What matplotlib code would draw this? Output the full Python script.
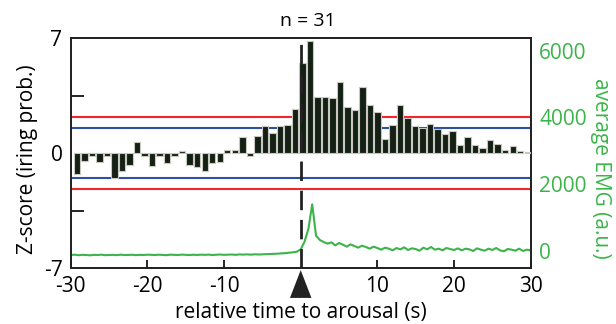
import numpy as np
import matplotlib
matplotlib.use('Agg')
import matplotlib.pyplot as plt
from matplotlib.patches import Polygon
from matplotlib.transforms import blended_transform_factory

# ---------------- data ----------------
bin_left = np.linspace(-29.6, 29.2, 61)      # left edges of the 61 histogram bins (s)
zscores = [-1.28, -0.51, -0.16, -0.57, -0.20, -1.50, -1.08, -0.71, 0.69, -0.20,
           -0.77, -0.20, -0.61, -0.20, 0.10, -0.71, -0.87, -1.08, -0.63, -0.53,
           0.20, 0.16, 0.97, -0.16, 1.05, 1.66, 1.22, 1.62, 1.70, 2.68,
           5.50, 6.80, 3.39, 3.39, 3.33, 4.30, 2.82, 2.62, 4.00, 2.92,
           2.48, 0.83, 1.68, 2.94, 2.13, 1.64, 1.50, 1.76, 1.46, 1.15,
           1.31, 0.47, 0.95, 0.50, 0.30, 0.81, 0.52, 0.17, 0.41, 0.14,
           0.07]

emg_t = np.arange(-30, 30.01, 0.5)           # sample times of EMG trace (s)
emg = [-130, -120, -135, -125, -130, -140, -125, -130, -120, -135, -130,
       -125, -135, -120, -130, -128, -122, -135, -125, -130, -120,
       -125, -130, -120, -128, -135, -120, -125, -130, -118, -125,
       -130, -122, -128, -120, -125, -118, -130, -122, -115, -125,
       -120, -115, -125, -112, -118, -110, -120, -108, -115, -110,
       -105, -100, -95, -90, -80, -75, -60, -50, -30,
       40, 270, 650, 1390, 450, 320, 260,
       210, 250, 160, 230, 180, 120, 190, 140, 90, 150, 110, 60, 120, 80,
       30, 90, 60, 10, 80, 40, 100, 20, 70, 50, 0, 90, 40, 110, 30, 60, 10, 80, 50, 20,
       70, 10, 60, 40, -10, 70, 30, 0, 60, 20, 80, 10, -20, 50, 30, 0, 60, -10, 30, 10]

red_thr = 2.2
blue_thr = 1.55

z_ticks = [-7, 0, 7]
z_minor = [-3.5, 3.5]
x_ticks = [-30, -20, -10, 10, 20, 30]
emg_ticks = [0, 2000, 4000, 6000]

# ---------------- style ----------------
plt.rcParams['font.family'] = ['Open Sans', 'DejaVu Sans']
FS = 15
GREEN = '#3cb44b'

fig = plt.figure(figsize=(6.16, 3.24), dpi=100)
ax = fig.add_axes([0.1148, 0.1728, 0.7467, 0.7099])
ax2 = ax.twinx()

ax.set_zorder(2)
ax.patch.set_visible(False)

# threshold lines
for v in (red_thr, -red_thr):
    ax.axhline(v, color='#f0282d', lw=1.5, zorder=1)
for v in (blue_thr, -blue_thr):
    ax.axhline(v, color='#2f4fa0', lw=1.5, zorder=1)

# histogram bars
ax.bar(bin_left, zscores, width=0.84, align='edge', color='#142014',
       edgecolor='#c8c8c0', linewidth=0.8, zorder=3)

# dashed arousal line
ax.axvline(0, color='#222222', lw=2.0, linestyle=(0, (7, 3.5)), zorder=4)

# EMG trace
ax2.plot(emg_t, emg, color=GREEN, lw=1.5)

# limits
ax.set_xlim(-30, 30)
ax.set_ylim(-7, 7)
ax2.set_ylim(-520, 6380)

# ticks
ax.set_yticks(z_ticks)
ax.set_yticklabels([str(v) for v in z_ticks])
ax.set_yticks(z_minor, minor=True)
ax.tick_params(axis='y', which='major', length=0, pad=6, labelsize=FS)
ax.tick_params(axis='y', which='minor', direction='in', length=9, width=1.2)
ax.set_xticks(x_ticks)
ax.set_xticklabels([str(v) for v in x_ticks])
ax.tick_params(axis='x', direction='in', length=6, width=1.2, pad=6, labelsize=FS)

ax2.set_yticks(emg_ticks)
ax2.set_yticklabels([str(v) for v in emg_ticks])
ax2.tick_params(axis='y', length=0, pad=6, labelsize=FS, labelcolor=GREEN)

for a in (ax, ax2):
    for s in a.spines.values():
        s.set_linewidth(1.3)
        s.set_color('#222222')

# labels
ax.text(-0.095, 0.474, 'Z-score (iring prob.)', transform=ax.transAxes,
        rotation=90, ha='center', va='center', fontsize=FS)
ax.text(1.151, 0.435, 'average EMG (a.u.)', transform=ax.transAxes,
        rotation=270, ha='center', va='center', fontsize=FS, color=GREEN)
ax.text(0.5, -0.195, 'relative time to arousal (s)', transform=ax.transAxes,
        ha='center', va='center', fontsize=FS)
ax.text(0.515, 1.075, 'n = 31', transform=ax.transAxes,
        ha='center', va='center', fontsize=14)

# arrow marker under the arousal time
tr = blended_transform_factory(ax.transData, ax.transAxes)
tri = Polygon([[0, -0.009], [-1.4, -0.13], [1.4, -0.13]], closed=True,
              transform=tr, clip_on=False, facecolor='#222222', edgecolor='none')
ax.add_patch(tri)

fig.savefig('out.png', dpi=100)
